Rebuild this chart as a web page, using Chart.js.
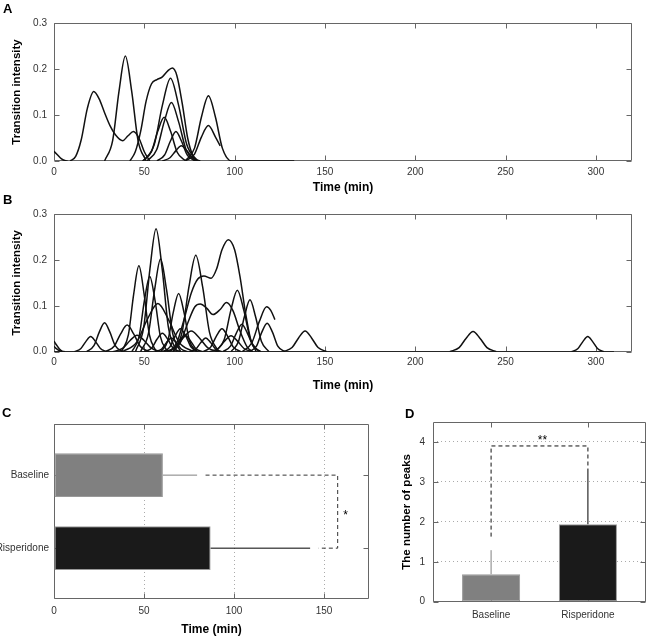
<!DOCTYPE html>
<html>
<head>
<meta charset="utf-8">
<script src="https://cdn.jsdelivr.net/npm/chart.js@4.4.1/dist/chart.umd.min.js"></script>
<style>
body { margin: 0; background: #fff; }
#fig { position: relative; width: 647px; height: 637px; overflow: hidden; }
#fig canvas { position: absolute; }
.tag { position: absolute; font: bold 13px "Liberation Sans", Arial, sans-serif; line-height: 15px; color: #000; }
</style>
</head>
<body>
<div id="fig">
  <canvas id="chartA" width="647" height="195" style="left:0;top:0"></canvas>
  <canvas id="chartB" width="647" height="203" style="left:0;top:190px"></canvas>
  <canvas id="chartC" width="380" height="237" style="left:0;top:400px"></canvas>
  <canvas id="chartD" width="267" height="237" style="left:380px;top:400px"></canvas>
  <div class="tag" style="left:3px;top:1px">A</div>
  <div class="tag" style="left:3px;top:192px">B</div>
  <div class="tag" style="left:2px;top:405px">C</div>
  <div class="tag" style="left:405px;top:406px">D</div>
</div>
<script>
const sans = '"Liberation Sans", Arial, sans-serif';

// shared axes of A and B
const timeTicks = [0, 50, 100, 150, 200, 250, 300];
const intensityTicks = [0, 0.1, 0.2, 0.3];

// A - baseline: one curve per animal, [time, intensity]
const curvesA = [
    [[0, 0.021], [2, 0.013], [4, 0.005], [6, 0.001], [7.5, 0]],
    [[9, 0], [12, 0.01], [15, 0.045], [18.5, 0.115], [22, 0.151], [25, 0.135], [28, 0.105], [31, 0.077], [34, 0.057], [38, 0.044], [41, 0.055], [44, 0.064], [47, 0.05], [50, 0.02], [53, 0]],
    [[28, 0], [32.5, 0.045], [36, 0.152], [39.5, 0.228], [43, 0.152], [46.5, 0.045], [51, 0]],
    [[42, 0], [45, 0.02], [48, 0.065], [51, 0.13], [54, 0.168], [57, 0.177], [60, 0.183], [63, 0.196], [65.5, 0.202], [68, 0.186], [71, 0.125], [74, 0.05], [77, 0.01], [79, 0]],
    [[49.5, 0], [55.5, 0.036], [60, 0.121], [64.5, 0.18], [69, 0.121], [73.5, 0.036], [79.5, 0]],
    [[51.5, 0], [56.9, 0.025], [61, 0.085], [65, 0.127], [69, 0.085], [73.1, 0.025], [78.5, 0]],
    [[49, 0], [53.8, 0.019], [57.4, 0.064], [61, 0.095], [64.6, 0.064], [68.2, 0.019], [73, 0]],
    [[57, 0], [61.2, 0.013], [64.4, 0.043], [67.5, 0.064], [70.6, 0.043], [73.8, 0.013], [78, 0]],
    [[60, 0], [64.2, 0.007], [67.4, 0.022], [70.5, 0.033], [73.6, 0.022], [76.8, 0.007], [81, 0]],
    [[72.6, 0], [77.8, 0.028], [81.6, 0.095], [85.5, 0.142], [89.4, 0.095], [93.2, 0.028], [98.4, 0], [133, 0]],
    [[72.6, 0], [77.8, 0.015], [81.6, 0.052], [85.5, 0.077], [89.4, 0.052], [92, 0.033]]
];

// B - risperidone
const curvesB = [
    [[0, 0], [310, 0]],
    [[0, 0.023], [1.5, 0.014], [3, 0.006], [4.5, 0.001], [6, 0]],
    [[0, 0.012], [1.5, 0.006], [3, 0.002], [4.5, 0]],
    [[11.3, 0], [14.9, 0.007], [17.6, 0.022], [20.3, 0.033], [23, 0.022], [25.7, 0.007], [29.3, 0]],
    [[18.1, 0], [22.1, 0.013], [25, 0.042], [28, 0.063], [31, 0.042], [33.9, 0.013], [37.9, 0]],
    [[28.5, 0], [33.3, 0.012], [36.9, 0.039], [40.5, 0.058], [44.1, 0.039], [47.7, 0.012], [52.5, 0]],
    [[32.5, 0], [37.9, 0.007], [42, 0.024], [46, 0.036], [50, 0.024], [54.1, 0.007], [59.5, 0]],
    [[37.4, 0], [41.2, 0.037], [44.1, 0.125], [47, 0.187], [49.9, 0.125], [52.8, 0.037], [56.6, 0]],
    [[43.1, 0], [47.1, 0.033], [50, 0.11], [53, 0.164], [56, 0.11], [58.9, 0.033], [62.9, 0]],
    [[45.1, 0], [49.7, 0.054], [53.1, 0.18], [56.5, 0.268], [59.9, 0.18], [63.3, 0.054], [67.9, 0]],
    [[47.9, 0], [52.3, 0.04], [55.7, 0.135], [59, 0.202], [62.3, 0.135], [65.7, 0.04], [70.1, 0]],
    [[38, 0], [45.8, 0.021], [51.6, 0.07], [57.5, 0.105], [63.4, 0.07], [69.2, 0.021], [77, 0]],
    [[59.1, 0], [63.1, 0.025], [66, 0.085], [69, 0.127], [72, 0.085], [74.9, 0.025], [78.9, 0]],
    [[65.9, 0], [70.9, 0.042], [74.7, 0.141], [78.5, 0.21], [82.3, 0.141], [86.1, 0.042], [91.1, 0]],
    [[64, 0], [68, 0.02], [72, 0.07], [76, 0.128], [79.5, 0.158], [83, 0.165], [87, 0.16], [90, 0.18], [93, 0.222], [96.5, 0.244], [100, 0.222], [103, 0.163], [106, 0.085], [109, 0.025], [112, 0]],
    [[66, 0], [70, 0.02], [74, 0.062], [78, 0.098], [81, 0.104], [84.5, 0.095], [88, 0.081], [92, 0.092], [95.5, 0.107], [99, 0.09], [103, 0.045], [107, 0.01], [110, 0]],
    [[89.5, 0], [94.3, 0.027], [97.9, 0.09], [101.5, 0.134], [105.1, 0.09], [108.7, 0.027], [113.5, 0]],
    [[98, 0], [102.2, 0.023], [105.4, 0.076], [108.5, 0.113], [111.6, 0.076], [114.8, 0.023], [119, 0]],
    [[104.2, 0], [109.6, 0.02], [113.7, 0.066], [117.7, 0.098], [120, 0.09], [122.3, 0.07]],
    [[108.1, 0], [112.1, 0.012], [115, 0.042], [118, 0.062], [121, 0.042], [123.9, 0.012], [127.9, 0]],
    [[127, 0], [131.8, 0.009], [135.4, 0.03], [139, 0.045], [142.6, 0.03], [146.2, 0.009], [151, 0]],
    [[219.1, 0], [224.3, 0.009], [228.1, 0.029], [232, 0.044], [235.9, 0.029], [239.7, 0.009], [244.9, 0]],
    [[286.5, 0], [290.1, 0.007], [292.8, 0.022], [295.5, 0.033], [298.2, 0.022], [300.9, 0.007], [304.5, 0]],
    [[60.1, 0], [64.1, 0.01], [67, 0.034], [70, 0.05], [73, 0.034], [75.9, 0.01], [79.9, 0]],
    [[62.6, 0], [66.6, 0.007], [69.5, 0.024], [72.5, 0.036], [75.5, 0.024], [78.4, 0.007], [82.4, 0]],
    [[56, 0], [59.6, 0.006], [62.3, 0.02], [65, 0.03], [67.7, 0.02], [70.4, 0.006], [74, 0]],
    [[82.5, 0], [86.7, 0.01], [89.9, 0.034], [93, 0.05], [96.1, 0.034], [99.3, 0.01], [103.5, 0]],
    [[93.5, 0], [97.7, 0.012], [100.9, 0.04], [104, 0.06], [107.1, 0.04], [110.3, 0.012], [114.5, 0]],
    [[75, 0], [78.6, 0.006], [81.3, 0.02], [84, 0.03], [86.7, 0.02], [89.4, 0.006], [93, 0]],
    [[50.1, 0], [54.1, 0.008], [57, 0.027], [60, 0.04], [63, 0.027], [65.9, 0.008], [69.9, 0]],
    [[61, 0], [67, 0.009], [71.5, 0.03], [76, 0.045], [80.5, 0.03], [85, 0.009], [91, 0]],
    [[86, 0], [90.8, 0.007], [94.4, 0.023], [98, 0.035], [101.6, 0.023], [105.2, 0.007], [110, 0]]
];

// C and D - group summaries (mean + SD)
const groups = ['Baseline', 'Risperidone'];
const groupColors = ['#808080', '#1a1a1a'];
const errColors = ['#808080', '#000'];
const durationTicks = [0, 50, 100, 150];
const durationMean = [60.5, 87];
const durationSd = [19, 55.3];
const durationBracket = [[84.2, 1], [157.6, 1], [157.6, 2], [147, 2]];
const peakTicks = [0, 1, 2, 3, 4];
const peaksMean = [0.69, 1.94];
const peaksSd = [0.6, 1.39];
const peaksBracket = [[1, 1.63], [1, 3.9], [2, 3.9], [2, 3.33]];

const tickFont = { family: sans, size: 10 };
const xTitleFont = { family: sans, size: 12, weight: 'bold' };
const yTitleFont = { family: sans, size: 11.5, weight: 'bold' };
const noLegend = { legend: { display: false }, tooltip: { enabled: false } };

// matlab style box with inward ticks on all four sides
const boxTicks = {
    id: 'boxTicks',
    beforeDatasetsDraw(chart) {
        const { ctx, chartArea: a, scales } = chart;
        const l = Math.round(a.left) + 0.5, r = Math.round(a.right) - 0.5;
        const t = Math.round(a.top) + 0.5, b = Math.round(a.bottom) - 0.5;
        const len = 5;
        ctx.save();
        ctx.strokeStyle = '#666';
        ctx.lineWidth = 1;
        ctx.beginPath();
        ctx.rect(l, t, r - l, b - t);
        scales.x.ticks.forEach(tk => {
            const px = Math.round(scales.x.getPixelForValue(tk.value)) + 0.5;
            ctx.moveTo(px, b); ctx.lineTo(px, b - len);
            ctx.moveTo(px, t); ctx.lineTo(px, t + len);
        });
        scales.y.ticks.forEach(tk => {
            const py = Math.round(scales.y.getPixelForValue(tk.value)) + 0.5;
            ctx.moveTo(l, py); ctx.lineTo(l + len, py);
            ctx.moveTo(r, py); ctx.lineTo(r - len, py);
        });
        ctx.stroke();
        ctx.restore();
    }
};

// significance stars
const sigText = {
    id: 'sigText',
    afterDatasetsDraw(chart, args, opts) {
        const { ctx, scales } = chart;
        ctx.save();
        ctx.font = '12px ' + sans;
        ctx.fillStyle = '#000';
        ctx.textAlign = 'center';
        ctx.textBaseline = 'middle';
        ctx.fillText(opts.text, scales.x.getPixelForValue(opts.x), scales.y.getPixelForValue(opts.y));
        ctx.restore();
    }
};

function setTicks(vals) {
    return s => { s.ticks = vals.map(v => ({ value: v })); };
}

function timeChart(id, curves, padTop, xHeight) {
    return new Chart(document.getElementById(id), {
        type: 'line',
        data: {
            datasets: curves.map(c => ({
                data: c,
                borderColor: '#111',
                borderWidth: 1.5,
                pointRadius: 0,
                fill: false,
                cubicInterpolationMode: 'monotone'
            }))
        },
        options: {
            responsive: false,
            animation: false,
            layout: { padding: { top: padTop, right: 15, left: 0, bottom: 0 } },
            plugins: noLegend,
            scales: {
                x: {
                    type: 'linear', min: 0, max: 320,
                    afterBuildTicks: setTicks(timeTicks),
                    afterFit: s => { s.height = xHeight; },
                    grid: { display: false, drawTicks: false },
                    border: { display: false },
                    ticks: { font: tickFont, color: '#333', padding: 5, maxRotation: 0 },
                    title: { display: true, text: 'Time (min)', font: xTitleFont, color: '#000', padding: 0 }
                },
                y: {
                    type: 'linear', min: 0, max: 0.3,
                    afterBuildTicks: setTicks(intensityTicks),
                    afterFit: s => { s.width = 54; },
                    grid: { display: false, drawTicks: false },
                    border: { display: false },
                    ticks: { font: tickFont, color: '#333', padding: 7, callback: v => v.toFixed(1) },
                    title: { display: true, text: 'Transition intensity', font: yTitleFont, color: '#000', padding: { top: 10, bottom: 0 } }
                }
            }
        },
        plugins: [boxTicks]
    });
}

timeChart('chartA', curvesA, 23, 34);
timeChart('chartB', curvesB, 24, 41.3);

// C - duration, horizontal bars
new Chart(document.getElementById('chartC'), {
    type: 'bar',
    data: {
        datasets: [
            {
                type: 'line',
                data: durationBracket.map(p => ({ x: p[0], y: p[1] })),
                borderColor: '#333', borderWidth: 1, borderDash: [4, 3], pointRadius: 0
            },
            ...groups.map((g, i) => ({
                type: 'line',
                data: [{ x: durationMean[i], y: i + 1 }, { x: durationMean[i] + durationSd[i], y: i + 1 }],
                borderColor: errColors[i], borderWidth: 1, pointRadius: 0
            })),
            {
                data: groups.map((g, i) => ({ x: durationMean[i], y: i + 1 })),
                backgroundColor: groupColors,
                borderColor: '#999', borderWidth: 1, borderSkipped: false,
                barPercentage: 0.6, categoryPercentage: 1
            }
        ]
    },
    options: {
        indexAxis: 'y',
        responsive: false,
        animation: false,
        layout: { padding: { top: 24, right: 11, left: 0, bottom: 0 } },
        plugins: { ...noLegend, sigText: { text: '*', x: 162, y: 1.56 } },
        scales: {
            x: {
                type: 'linear', min: 0, max: 175,
                afterBuildTicks: setTicks(durationTicks),
                afterFit: s => { s.height = 37.7; },
                grid: { color: '#aaa', drawTicks: false },
                border: { display: false, dash: [1, 3] },
                ticks: { font: tickFont, color: '#333', padding: 6, maxRotation: 0 },
                title: { display: true, text: 'Time (min)', font: xTitleFont, color: '#000', padding: 0 }
            },
            y: {
                type: 'linear', min: 0.3, max: 2.7, reverse: true, offset: false,
                afterBuildTicks: setTicks([1, 2]),
                afterFit: s => { s.width = 54; },
                grid: { display: false, drawTicks: false, offset: false },
                border: { display: false },
                ticks: { font: tickFont, color: '#333', padding: 5, callback: v => groups[v - 1] }
            }
        }
    },
    plugins: [boxTicks, sigText]
});

// D - number of peaks
new Chart(document.getElementById('chartD'), {
    type: 'bar',
    data: {
        datasets: [
            {
                type: 'line',
                data: peaksBracket.map(p => ({ x: p[0], y: p[1] })),
                borderColor: '#111', borderWidth: 1, borderDash: [4, 3], pointRadius: 0
            },
            ...groups.map((g, i) => ({
                type: 'line',
                data: [{ x: i + 1, y: peaksMean[i] }, { x: i + 1, y: peaksMean[i] + peaksSd[i] }],
                borderColor: errColors[i], borderWidth: 1, pointRadius: 0
            })),
            {
                data: groups.map((g, i) => ({ x: i + 1, y: peaksMean[i] })),
                backgroundColor: groupColors,
                borderColor: '#999', borderWidth: 1, borderSkipped: false,
                barPercentage: 0.6, categoryPercentage: 1
            }
        ]
    },
    options: {
        responsive: false,
        animation: false,
        layout: { padding: { top: 22, right: 1, left: 0, bottom: 0 } },
        plugins: { ...noLegend, sigText: { text: '**', x: 1.53, y: 4.02 } },
        scales: {
            x: {
                type: 'linear', min: 0.4, max: 2.6, offset: false,
                afterBuildTicks: setTicks([1, 2]),
                afterFit: s => { s.height = 35.3; },
                grid: { display: false, drawTicks: false, offset: false },
                border: { display: false },
                ticks: { font: tickFont, color: '#333', padding: 8, maxRotation: 0, callback: v => groups[v - 1] }
            },
            y: {
                type: 'linear', min: 0, max: 4.5,
                afterBuildTicks: setTicks(peakTicks),
                afterFit: s => { s.width = 53; },
                grid: { color: '#aaa', drawTicks: false },
                border: { display: false, dash: [1, 3] },
                ticks: { font: tickFont, color: '#333', padding: 8 },
                title: { display: true, text: 'The number of peaks', font: yTitleFont, color: '#000', padding: { top: 20, bottom: 0 } }
            }
        }
    },
    plugins: [boxTicks, sigText]
});
</script>
</body>
</html>
